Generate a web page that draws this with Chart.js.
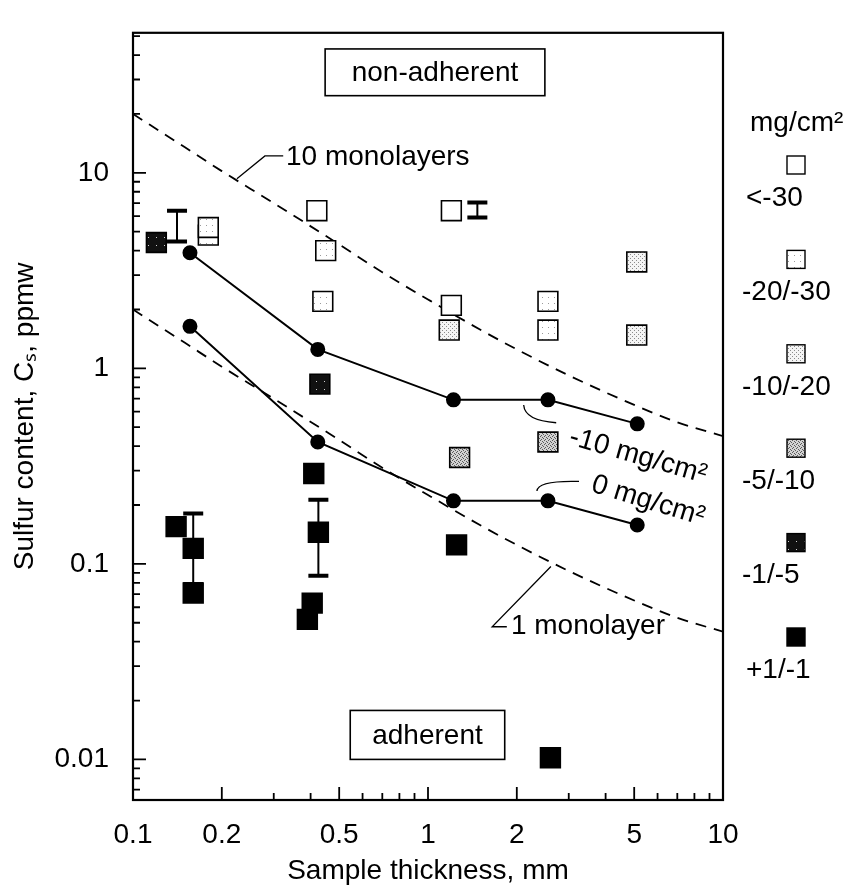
<!DOCTYPE html>
<html>
<head>
<meta charset="utf-8">
<title>Sulfur content vs sample thickness</title>
<script src="https://cdn.jsdelivr.net/npm/chart.js@4.4.0/dist/chart.umd.min.js"></script>
<style>
    html, body { margin: 0; padding: 0; background: #fff; }
    #wrap { width: 858px; height: 888px; }
</style>
</head>
<body>
<div id="wrap"><canvas id="chart" width="858" height="888"></canvas></div>
<script>
// --- Data ---

// weight-change classes, mg/cm2
const categories = ['<-30', '-20/-30', '-10/-20', '-5/-10', '-1/-5', '+1/-1'];

// squares, one pair of arrays per class: thickness (mm), sulfur (ppmw)
const openX = [0.42, 1.2, 1.2];
const openY = [6.4, 6.4, 2.1];
const c2030X = [0.18, 0.18, 0.45, 0.44, 2.55, 2.55];
const c2030Y = [4.8, 5.25, 4.0, 2.2, 2.2, 1.57];
const c1020X = [5.1, 1.18, 5.1];
const c1020Y = [3.5, 1.57, 1.48];
const c510X = [1.28, 2.55];
const c510Y = [0.35, 0.42];
const c15X = [0.12, 0.43];
const c15Y = [4.4, 0.83];
const c11X = [0.41, 0.14, 0.16, 0.425, 1.25, 0.16, 0.405, 0.39, 2.6];
const c11Y = [0.29, 0.155, 0.12, 0.145, 0.125, 0.071, 0.063, 0.052, 0.0102];

// error bars: x, low, high
const errX = [0.141, 1.47, 0.16, 0.425];
const errLo = [4.45, 5.9, 0.079, 0.087];
const errHi = [6.4, 7.05, 0.181, 0.213];

// solid lines with circles
const lineX = [0.156, 0.423, 1.22, 2.55, 5.12];
const minus10Y = [3.9, 1.25, 0.69, 0.69, 0.52];
const zeroY = [1.64, 0.42, 0.21, 0.21, 0.158];

// dashed monolayer curves
const monoX = [0.1, 0.15, 0.2, 0.3, 0.5, 0.7, 1, 1.5, 2, 3, 5, 7, 10];
const mono10Y = [20, 13.5, 10.2, 7.0, 4.3, 3.1, 2.25, 1.58, 1.25, 0.92, 0.65, 0.53, 0.45];
const mono1Y = [2.0, 1.35, 1.02, 0.7, 0.43, 0.31, 0.225, 0.158, 0.125, 0.092, 0.065, 0.053, 0.045];

// axis ticks
const xTickLabels = [0.1, 0.2, 0.5, 1, 2, 5, 10];
const xMinorTicks = [0.3, 0.4, 0.6, 0.7, 0.8, 0.9, 3, 4, 6, 7, 8, 9];
const yTickLabels = [0.01, 0.1, 1, 10];
const yMinorTicks = [0.007, 0.008, 0.009, 0.02, 0.03, 0.04, 0.05, 0.06, 0.07, 0.08, 0.09,
                     0.2, 0.3, 0.4, 0.5, 0.6, 0.7, 0.8, 0.9, 2, 3, 4, 5, 6, 7, 8, 9, 20, 30, 40, 50];

// --- Styling helpers ---
const FONT = "'Liberation Sans', Arial, Helvetica, sans-serif";
const canvas = document.getElementById('chart');
const ctx = canvas.getContext('2d');

const pts = (xs, ys) => xs.map((x, i) => ({ x, y: ys[i] }));

// small stipple textures for the shaded squares
const makePattern = (bg, dot, step, dots) => {
    const c = document.createElement('canvas');
    c.width = step;
    c.height = step;
    const g = c.getContext('2d');
    g.fillStyle = bg;
    g.fillRect(0, 0, step, step);
    g.fillStyle = dot;
    dots.forEach(([dx, dy]) => g.fillRect(dx, dy, 1, 1));
    return ctx.createPattern(c, 'repeat');
};

const fills = [
    '#ffffff',
    makePattern('#ffffff', '#9a9a9a', 6, [[2, 3]]),
    makePattern('#f4f4f4', '#8a8a8a', 4, [[0, 0], [2, 2]]),
    makePattern('#d2d2d2', '#5a5a5a', 4, [[0, 0], [2, 1], [1, 3], [3, 2]]),
    makePattern('#111111', '#d0d0d0', 8, [[4, 5]]),
    '#000000'
];

const squareSet = (i, xs, ys) => ({
    label: categories[i],
    data: pts(xs, ys),
    pointStyle: 'rect',
    pointRadius: 14,
    pointHoverRadius: 14,
    backgroundColor: fills[i],
    borderColor: '#000',
    borderWidth: 1.6,
    showLine: false,
    order: 1
});

// annotation texts and leader lines, anchored in data units
const notes = {
    boxes: [
        { text: 'non-adherent', x0: 0.448, x1: 2.49, y0: 24.8, y1: 43 },
        { text: 'adherent', x0: 0.545, x1: 1.82, y0: 0.01, y1: 0.0178 }
    ],
    labels: [
        { text: '10 monolayers', x: 0.33, y: 12.0, align: 'left', angle: 0 },
        { text: '1 monolayer', x: 1.91, y: 0.0477, align: 'left', angle: 0 },
        { text: '-10 mg/cm²', x: 5.15, y: 0.356, align: 'center', angle: 16 },
        { text: '0 mg/cm²', x: 5.57, y: 0.21, align: 'center', angle: 17 }
    ],
    leaders: [
        { pts: [[0.225, 9.33], [0.28, 12.2], [0.323, 12.2]], curve: false },
        { pts: [[2.61, 0.097], [1.65, 0.0477], [1.85, 0.0477]], curve: false },
        { pts: [[2.11, 0.649], [2.13, 0.54], [2.72, 0.527]], curve: true },
        { pts: [[2.34, 0.236], [2.36, 0.2676], [3.25, 0.264]], curve: true }
    ]
};

// --- Plugins ---
const errorBars = {
    id: 'errorBars',
    beforeDatasetsDraw(chart) {
        const { ctx: c, scales: { x, y } } = chart;
        c.save();
        c.strokeStyle = '#000';
        errX.forEach((v, i) => {
            const px = x.getPixelForValue(v);
            const top = y.getPixelForValue(errHi[i]);
            const bot = y.getPixelForValue(errLo[i]);
            c.lineWidth = 2;
            c.beginPath();
            c.moveTo(px, top);
            c.lineTo(px, bot);
            c.stroke();
            c.lineWidth = 4;
            c.beginPath();
            c.moveTo(px - 10, top);
            c.lineTo(px + 10, top);
            c.moveTo(px - 10, bot);
            c.lineTo(px + 10, bot);
            c.stroke();
        });
        c.restore();
    }
};

const frameAndTicks = {
    id: 'frameAndTicks',
    afterDraw(chart) {
        const { ctx: c, chartArea: a, scales: { x, y } } = chart;
        c.save();
        c.strokeStyle = '#000';
        c.lineWidth = 1.8;
        c.beginPath();
        xTickLabels.forEach(v => {
            const px = x.getPixelForValue(v);
            c.moveTo(px, a.bottom);
            c.lineTo(px, a.bottom - 13);
        });
        xMinorTicks.forEach(v => {
            const px = x.getPixelForValue(v);
            c.moveTo(px, a.bottom);
            c.lineTo(px, a.bottom - 7);
        });
        yTickLabels.forEach(v => {
            const py = y.getPixelForValue(v);
            c.moveTo(a.left, py);
            c.lineTo(a.left + 13, py);
        });
        yMinorTicks.forEach(v => {
            const py = y.getPixelForValue(v);
            c.moveTo(a.left, py);
            c.lineTo(a.left + 7, py);
        });
        c.stroke();
        c.lineWidth = 2.2;
        c.strokeRect(a.left, a.top, a.right - a.left, a.bottom - a.top);
        c.restore();
    }
};

const annotations = {
    id: 'annotations',
    afterDatasetsDraw(chart) {
        const { ctx: c, scales: { x, y } } = chart;
        c.save();
        c.font = `28px ${FONT}`;
        c.fillStyle = '#000';
        c.strokeStyle = '#000';

        notes.boxes.forEach(b => {
            const l = x.getPixelForValue(b.x0), r = x.getPixelForValue(b.x1);
            const t = y.getPixelForValue(b.y1), btm = y.getPixelForValue(b.y0);
            c.fillStyle = '#fff';
            c.fillRect(l, t, r - l, btm - t);
            c.lineWidth = 1.6;
            c.strokeRect(l, t, r - l, btm - t);
            c.fillStyle = '#000';
            c.textAlign = 'center';
            c.textBaseline = 'middle';
            c.fillText(b.text, (l + r) / 2, (t + btm) / 2 + 1);
        });

        c.lineWidth = 1.3;
        notes.leaders.forEach(ld => {
            const p = ld.pts.map(([vx, vy]) => [x.getPixelForValue(vx), y.getPixelForValue(vy)]);
            c.beginPath();
            c.moveTo(p[0][0], p[0][1]);
            if (ld.curve) {
                c.quadraticCurveTo(p[1][0], p[1][1], p[2][0], p[2][1]);
            } else {
                c.lineTo(p[1][0], p[1][1]);
                c.lineTo(p[2][0], p[2][1]);
            }
            c.stroke();
        });

        notes.labels.forEach(lb => {
            c.save();
            c.translate(x.getPixelForValue(lb.x), y.getPixelForValue(lb.y));
            c.rotate(lb.angle * Math.PI / 180);
            c.textAlign = lb.align;
            c.textBaseline = 'middle';
            c.fillText(lb.text, 0, 0);
            c.restore();
        });
        c.restore();
    }
};

// legend on the right: symbol above its label
const sideLegend = {
    id: 'sideLegend',
    afterDraw(chart) {
        const c = chart.ctx;
        const a = chart.chartArea;
        const left = a.right + 19;
        const top = 165;
        const step = 94.4;
        c.save();
        c.font = `28px ${FONT}`;
        c.fillStyle = '#000';
        c.textAlign = 'left';
        c.textBaseline = 'middle';
        c.fillText('mg/cm²', left + 8, 123);
        categories.forEach((name, i) => {
            const cy = top + i * step;
            c.fillStyle = fills[i];
            c.fillRect(left + 45, cy - 9, 18, 18);
            c.lineWidth = 1.4;
            c.strokeStyle = '#000';
            c.strokeRect(left + 45, cy - 9, 18, 18);
            c.fillStyle = '#000';
            c.fillText(name, left + (name[0] === '<' || name[0] === '+' ? 4 : 0), cy + 33);
        });
        c.restore();
    }
};

// --- Chart ---
new Chart(ctx, {
    type: 'scatter',
    data: {
        datasets: [
            {
                label: '-10 mg/cm²',
                data: pts(lineX, minus10Y),
                showLine: true,
                borderColor: '#000',
                borderWidth: 2,
                backgroundColor: '#000',
                pointStyle: 'circle',
                pointRadius: 6.5,
                order: 0
            },
            {
                label: '0 mg/cm²',
                data: pts(lineX, zeroY),
                showLine: true,
                borderColor: '#000',
                borderWidth: 2,
                backgroundColor: '#000',
                pointStyle: 'circle',
                pointRadius: 6.5,
                order: 0
            },
            squareSet(0, openX, openY),
            squareSet(1, c2030X, c2030Y),
            squareSet(2, c1020X, c1020Y),
            squareSet(3, c510X, c510Y),
            squareSet(4, c15X, c15Y),
            squareSet(5, c11X, c11Y),
            {
                label: '10 monolayers',
                data: pts(monoX, mono10Y),
                showLine: true,
                borderColor: '#000',
                borderWidth: 1.8,
                borderDash: [11, 8],
                pointRadius: 0,
                cubicInterpolationMode: 'monotone',
                order: 2
            },
            {
                label: '1 monolayer',
                data: pts(monoX, mono1Y),
                showLine: true,
                borderColor: '#000',
                borderWidth: 1.8,
                borderDash: [11, 8],
                pointRadius: 0,
                cubicInterpolationMode: 'monotone',
                order: 2
            }
        ]
    },
    options: {
        responsive: false,
        animation: false,
        layout: { padding: { top: 13, right: 135, left: 0, bottom: 0 } },
        plugins: {
            legend: { display: false },
            tooltip: { enabled: false }
        },
        scales: {
            x: {
                type: 'logarithmic',
                position: 'bottom',
                min: 0.1,
                max: 10,
                grid: { display: false },
                border: { display: false },
                afterBuildTicks: (axis) => { axis.ticks = xTickLabels.map(v => ({ value: v })); },
                afterFit: (axis) => { axis.height = 88; },
                ticks: {
                    autoSkip: false,
                    maxRotation: 0,
                    padding: 10,
                    color: '#000',
                    font: { family: FONT, size: 28 },
                    callback: (v) => String(v)
                },
                title: {
                    display: true,
                    text: 'Sample thickness, mm',
                    color: '#000',
                    font: { family: FONT, size: 28 },
                    padding: { top: 0, bottom: 0 }
                }
            },
            y: {
                type: 'logarithmic',
                min: 0.0062,
                max: 52,
                grid: { display: false },
                border: { display: false },
                afterBuildTicks: (axis) => { axis.ticks = yTickLabels.map(v => ({ value: v })); },
                afterFit: (axis) => { axis.width = 133; },
                ticks: {
                    autoSkip: false,
                    padding: 16,
                    color: '#000',
                    font: { family: FONT, size: 28 },
                    callback: (v) => String(v)
                },
                title: {
                    display: true,
                    text: 'Sulfur content, Cₛ, ppmw',
                    color: '#000',
                    font: { family: FONT, size: 28 },
                    padding: { top: 8, bottom: 0 }
                }
            }
        }
    },
    plugins: [errorBars, annotations, frameAndTicks, sideLegend]
});
</script>
</body>
</html>
